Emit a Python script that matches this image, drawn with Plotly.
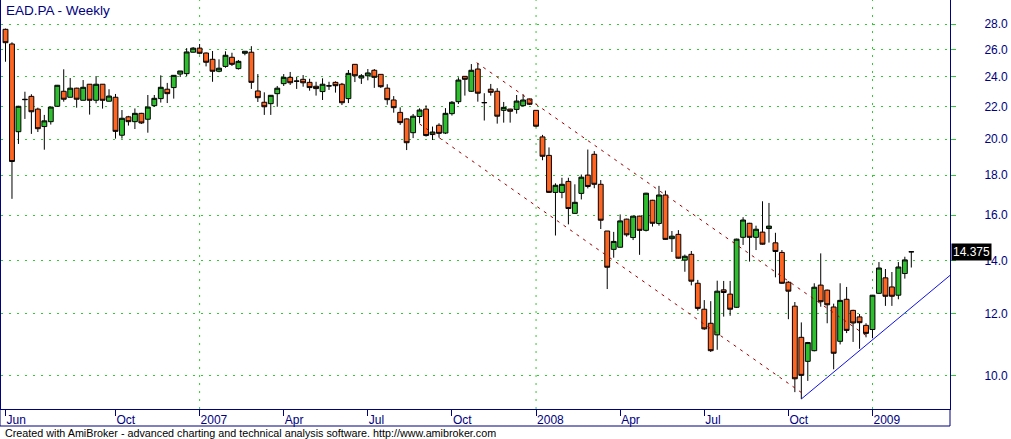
import math
import pandas as pd
import plotly.graph_objects as go

# ---------------- data (weekly bars, EAD.PA) ----------------
first_week = "2006-06-09"
n_bars = 141
dates = pd.date_range(first_week, periods=n_bars, freq="7D")

opens = [27.59, 26.43, 20.44, 22.45, 22.67, 21.84, 20.75, 21.05, 22.02, 23.01,
         22.61, 23.22, 22.41, 23.49, 22.41, 23.49, 22.35, 22.61, 20.23, 21.35,
         21.05, 21.57, 21.20, 22.06, 22.52, 23.15, 23.26, 24.20, 24.23, 25.80,
         26.11, 25.74, 25.27, 24.40, 24.75, 25.42, 24.59, 25.72, 25.80, 23.03,
         22.28, 22.19, 22.85, 23.53, 23.97, 23.71, 23.83, 23.62, 23.35, 22.99,
         23.37, 23.62, 23.49, 22.52, 24.90, 23.92, 24.08, 24.47, 24.18, 23.22,
         22.43, 21.63, 21.22, 20.38, 21.37, 21.84, 20.27, 20.83, 20.36, 21.55,
         22.32, 24.04, 23.01, 24.56, 22.25, 23.15, 23.01, 21.76, 21.84, 21.82,
         22.06, 22.50, 21.76, 20.13, 19.07, 17.11, 17.11, 17.67, 16.09, 17.06,
         18.00, 19.13, 17.52, 15.28, 14.48, 14.57, 15.82, 14.99, 15.96, 15.31,
         16.72, 15.62, 16.98, 14.94, 15.13, 14.03, 14.27, 13.11, 12.15, 11.66,
         11.27, 12.86, 12.70, 12.22, 15.00, 15.63, 15.00, 15.23, 15.39, 14.76,
         14.35, 13.15, 12.26, 11.19, 10.43, 10.76, 13.04, 12.85, 12.23, 11.06,
         12.51, 12.11, 11.88, 11.59, 11.45, 12.73, 13.32, 12.97, 12.66, 13.49,
         14.38]
highs = [27.65, 26.56, 22.05, 22.98, 22.81, 21.93, 21.47, 21.97, 23.44, 24.54,
         23.92, 23.25, 23.78, 23.50, 24.06, 23.50, 23.15, 22.83, 21.78, 21.41,
         21.88, 21.60, 22.76, 22.76, 24.11, 23.58, 24.13, 24.42, 26.11, 26.19,
         26.43, 25.78, 25.89, 25.27, 25.87, 25.76, 25.22, 25.88, 26.26, 24.20,
         22.94, 22.76, 23.37, 24.20, 24.35, 24.01, 24.13, 23.87, 23.66, 23.90,
         23.66, 23.69, 23.58, 24.49, 24.92, 24.20, 24.56, 24.56, 24.20, 23.49,
         22.69, 21.95, 21.25, 21.53, 21.89, 22.08, 20.75, 20.95, 21.90, 22.36,
         23.97, 24.06, 24.92, 25.00, 22.88, 23.51, 23.22, 22.30, 21.86, 22.76,
         22.81, 22.52, 21.78, 20.25, 19.52, 17.57, 17.86, 17.86, 17.52, 18.03,
         19.40, 19.31, 17.74, 15.28, 15.24, 16.04, 15.84, 15.97, 15.98, 17.09,
         16.74, 17.44, 17.20, 15.28, 15.32, 14.26, 14.41, 13.24, 12.48, 12.44,
         13.21, 13.20, 13.20, 14.94, 15.91, 15.65, 15.52, 16.67, 16.59, 15.20,
         14.45, 13.19, 12.41, 11.69, 11.04, 13.11, 14.31, 12.87, 12.35, 13.11,
         12.97, 12.13, 11.98, 11.66, 12.67, 13.95, 13.67, 13.55, 13.95, 14.17,
         14.40]
lows = [25.09, 16.79, 19.72, 21.22, 20.31, 20.42, 19.39, 20.87, 22.00, 22.32,
        22.60, 21.93, 22.41, 21.49, 22.21, 21.87, 22.33, 20.03, 20.03, 20.81,
        20.60, 20.91, 20.38, 21.99, 22.26, 22.23, 22.52, 23.99, 24.06, 25.78,
        25.64, 24.75, 23.66, 24.33, 24.65, 24.78, 24.52, 25.57, 23.17, 22.30,
        21.47, 21.47, 21.99, 23.37, 23.44, 23.17, 23.32, 23.05, 22.72, 22.43,
        23.10, 22.92, 22.10, 22.23, 23.64, 23.51, 23.76, 23.24, 23.24, 22.12,
        21.61, 20.85, 19.37, 20.06, 20.95, 20.15, 19.95, 20.09, 20.30, 21.43,
        22.17, 22.72, 22.97, 22.32, 21.12, 22.72, 20.93, 20.99, 20.99, 21.55,
        21.99, 22.10, 20.71, 18.80, 17.08, 15.08, 16.82, 15.58, 16.08, 16.76,
        17.31, 17.32, 15.37, 12.89, 14.13, 14.56, 15.03, 14.88, 14.25, 15.26,
        15.48, 15.52, 14.89, 14.37, 14.09, 13.56, 13.03, 12.10, 11.44, 10.72,
        10.79, 11.89, 11.92, 12.20, 14.67, 13.97, 14.45, 14.68, 14.77, 13.34,
        13.09, 11.80, 9.53, 9.34, 9.85, 10.74, 12.24, 11.66, 10.19, 10.96,
        11.33, 11.04, 10.82, 11.19, 11.16, 12.71, 12.27, 12.27, 12.51, 13.29,
        13.73]
closes = [26.53, 18.73, 22.02, 22.47, 21.67, 20.62, 21.10, 21.97, 23.42, 22.48,
          23.22, 22.48, 23.28, 22.41, 23.49, 22.41, 22.69, 20.46, 21.26, 21.05,
          21.57, 20.97, 21.97, 22.54, 23.28, 22.85, 24.11, 24.42, 25.82, 26.11,
          25.72, 25.05, 24.40, 24.62, 25.57, 24.90, 25.12, 25.87, 23.62, 22.58,
          21.99, 22.74, 23.22, 23.97, 23.59, 23.70, 23.59, 23.26, 23.19, 23.49,
          23.38, 23.39, 22.25, 24.25, 24.08, 24.08, 24.28, 23.97, 23.32, 22.45,
          21.93, 20.99, 19.79, 21.39, 21.78, 20.21, 20.42, 20.34, 21.57, 22.28,
          23.78, 23.83, 24.47, 22.88, 22.26, 22.94, 21.39, 21.95, 21.70, 22.36,
          22.43, 22.15, 20.77, 19.02, 17.11, 17.47, 17.52, 16.32, 16.62, 17.89,
          17.41, 17.52, 15.77, 13.74, 14.82, 15.74, 15.11, 15.96, 15.31, 17.07,
          15.63, 16.98, 14.91, 15.05, 14.11, 14.19, 13.19, 12.18, 11.47, 10.76,
          12.81, 12.76, 12.15, 14.92, 15.78, 15.00, 15.36, 14.70, 15.50, 14.39,
          13.11, 12.81, 9.91, 10.01, 11.02, 12.96, 12.42, 12.31, 10.68, 12.47,
          11.42, 11.67, 11.68, 11.32, 12.66, 13.71, 12.62, 12.62, 13.75, 14.04,
          14.375]

month_tick_dates = ["2006-06-09", "2006-10-06", "2007-01-05", "2007-04-06",
                    "2007-07-06", "2007-10-05", "2008-01-04", "2008-04-04",
                    "2008-07-04", "2008-10-03", "2009-01-02"]
month_tick_labels = ["Jun", "Oct", "2007", "Apr", "Jul", "Oct", "2008", "Apr",
                     "Jul", "Oct", "2009"]
year_line_dates = ["2007-01-05", "2008-01-04", "2009-01-02"]

price_ticks = [10, 12, 14, 16, 18, 20, 22, 24, 26, 28]
price_labels = ["10.0", "12.0", "14.0", "16.0", "18.0", "20.0", "22.0",
                "24.0", "26.0", "28.0"]

# hand-drawn trend lines (date, price)
channel_upper_x = ["2007-10-31 19:00", "2008-12-26"]
channel_upper_y = [25.02, 11.25]
channel_lower_x = ["2007-08-31", "2008-10-22"]
channel_lower_y = [20.91, 9.43]
support_x = ["2008-10-17", "2009-03-27"]
support_y = [9.34, 13.42]

last_close = 14.375
title_text = "EAD.PA - Weekly"
footer_text = ("Created with AmiBroker - advanced charting and technical "
               "analysis software. http://www.amibroker.com")

# ---------------- styling / layout ----------------
NAVY = "#000080"
GRID = "#2ecc2e"
UP = "#2ebf2e"
DOWN = "#ff6420"
FONT = "Liberation Sans, Arial, sans-serif"

W, H = 1011, 439
ML, MR, MT, MB = 1, 61, 0, 30
PW, PH = W - ML - MR, H - MT - MB

base = pd.Timestamp(first_week)
x_left = base + pd.Timedelta(days=7 * -0.696)
x_right = base + pd.Timedelta(days=7 * 145.98)

fig = go.Figure()

fig.add_trace(go.Candlestick(
    x=dates, open=opens, high=highs, low=lows, close=closes,
    increasing=dict(fillcolor=UP, line=dict(color="black", width=1)),
    decreasing=dict(fillcolor=DOWN, line=dict(color="black", width=1)),
    whiskerwidth=0, hoverinfo="skip", showlegend=False,
))

for xs, ys, col, dash in [
    (channel_upper_x, channel_upper_y, "#a00000", "3px,5px"),
    (channel_lower_x, channel_lower_y, "#a00000", "3px,5px"),
    (support_x, support_y, "#1010e8", "solid"),
]:
    fig.add_trace(go.Scatter(x=xs, y=ys, mode="lines",
                             line=dict(color=col, width=1, dash=dash),
                             hoverinfo="skip", showlegend=False))

shapes = []
for d in year_line_dates:
    shapes.append(dict(type="line", xref="x", yref="paper", x0=d, x1=d,
                       y0=0, y1=1, line=dict(color=GRID, width=1, dash="2px,6px"),
                       layer="below"))
# outer frame below the axis line
yb = -(426 - PH) / PH
xl = -1 / PW
shapes += [
    dict(type="line", xref="paper", yref="paper", x0=xl, x1=1, y0=yb, y1=yb,
         line=dict(color=NAVY, width=1)),
    dict(type="line", xref="paper", yref="paper", x0=xl, x1=xl, y0=yb, y1=1,
         line=dict(color=NAVY, width=1)),
    dict(type="line", xref="paper", yref="paper", x0=1, x1=1, y0=yb, y1=0,
         line=dict(color=NAVY, width=1)),
]

annotations = [
    dict(text=title_text, xref="paper", yref="paper", x=3 / PW, y=1 - 1 / PH,
         xanchor="left", yanchor="top", showarrow=False,
         font=dict(family=FONT, size=13.5, color=NAVY)),
    dict(text=footer_text, xref="paper", yref="paper", x=2 / PW,
         y=-(433 - PH) / PH, xanchor="left", yanchor="middle", showarrow=False,
         font=dict(family=FONT, size=10.75, color="black")),
    dict(text=f"{last_close:.3f}", xref="paper", yref="y", x=1,
         y=math.log10(last_close), xanchor="left", yanchor="middle", xshift=1,
         showarrow=False, bgcolor="black", borderpad=1,
         font=dict(family=FONT, size=12, color="white")),
]

fig.update_layout(
    width=W, height=H,
    margin=dict(l=ML, r=MR, t=MT, b=MB, autoexpand=False),
    paper_bgcolor="white", plot_bgcolor="white",
    showlegend=False, hovermode=False,
    boxgap=0.25, boxgroupgap=0,
    shapes=shapes, annotations=annotations,
    xaxis=dict(
        type="date", range=[x_left, x_right], rangeslider=dict(visible=False),
        tickvals=month_tick_dates, ticktext=month_tick_labels,
        ticks="outside", ticklen=6, tickwidth=1, tickcolor=NAVY,
        ticklabelposition="outside right",
        tickfont=dict(family=FONT, size=12, color=NAVY),
        showgrid=False, zeroline=False,
        showline=True, linecolor=NAVY, linewidth=1, mirror=True,
        automargin=False, fixedrange=True,
    ),
    yaxis=dict(
        type="log", side="right",
        range=[math.log10(9.0704), math.log10(30.065)],
        tickvals=price_ticks, ticktext=price_labels,
        ticks="outside", ticklen=5, tickwidth=1, tickcolor=GRID,
        ticklabelstandoff=26,
        tickfont=dict(family=FONT, size=12, color=NAVY),
        showgrid=True, gridcolor=GRID, gridwidth=1, griddash="2px,6px",
        zeroline=False,
        showline=True, linecolor=NAVY, linewidth=1, mirror=True,
        automargin=False, fixedrange=True,
    ),
)

page_fix = ("document.body.style.margin='0';"
            "document.documentElement.style.overflow='hidden';"
            "document.body.style.overflow='hidden';")
fig.write_html("out.html", config={"displayModeBar": False},
               post_script=page_fix)
